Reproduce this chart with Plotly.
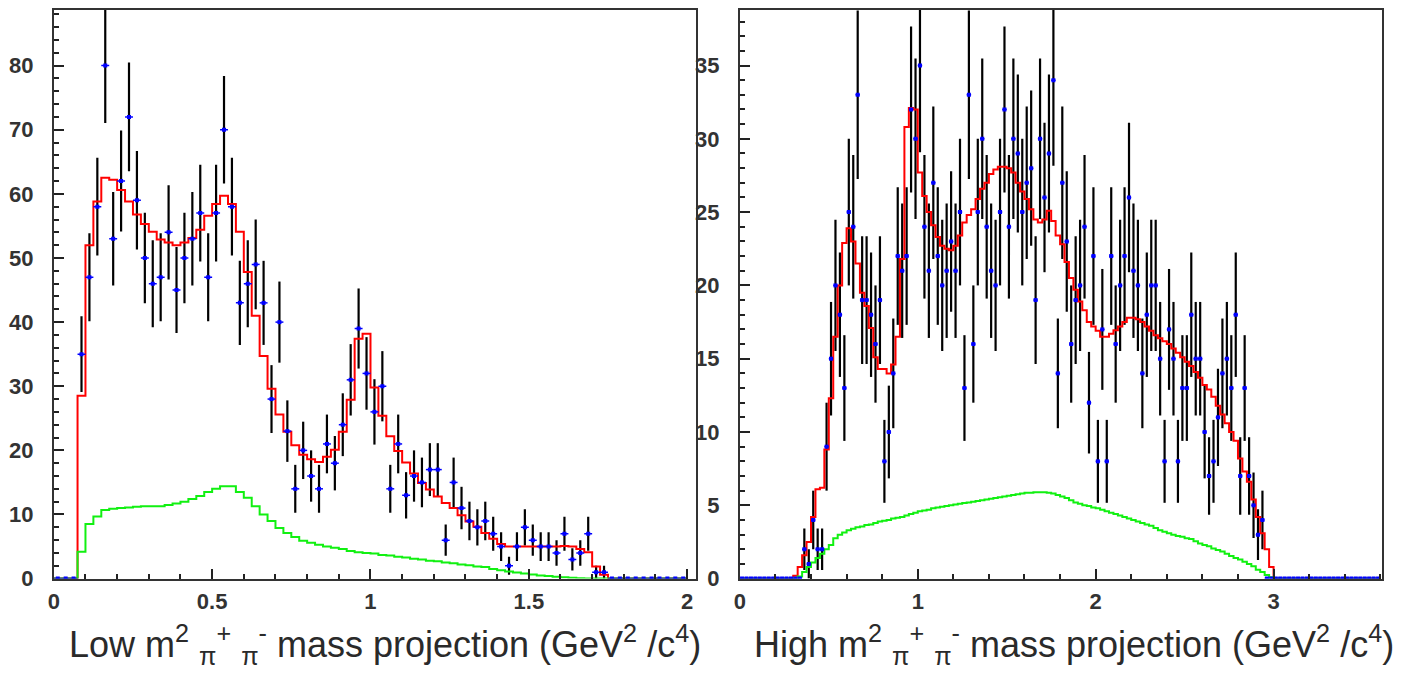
import numpy as np
import plotly.graph_objects as go

BIN_WIDTH = 0.025

# ---- Low m^2(pi+ pi-) projection, 0.025 GeV^2/c^4 bins starting at 0 ----
low_counts = [0, 0, 0, 35, 47, 58, 80, 53, 62, 72, 59, 50, 46, 47, 54, 45, 50, 53, 57, 47,
              57, 70, 58, 43, 46, 49, 43, 28, 40, 23, 14, 20, 16, 14, 21, 18, 24, 31, 39, 32,
              26, 30, 14, 21, 13, 16, 15, 17, 17, 6, 15, 11, 9, 8, 9, 7, 5, 2, 5, 8,
              6, 5, 5, 4, 7, 3, 4, 7, 1, 1, 0, 0, 0, 0, 0, 0, 0, 0, 0, 0]
low_fit = [0, 0, 0, 28.5, 52.0, 58.8, 62.5, 62.2, 60.6, 58.8, 56.8, 55.3, 54.1, 52.9, 52.4, 52.0,
           52.4, 53.1, 54.4, 56.6, 58.4, 59.7, 58.4, 54.1, 47.8, 41.0, 34.7, 29.6, 25.6, 22.9,
           20.8, 19.3, 18.6, 18.2, 19.0, 20.1, 22.9, 27.9, 37.4, 38.2, 29.8, 25.4, 22.2, 19.9,
           18.1, 16.4, 14.9, 13.9, 12.8, 11.8, 11.0, 9.9, 8.9, 8.1, 7.1, 6.2, 5.4, 5.0, 5.0, 5.0,
           5.0, 5.0, 5.0, 5.0, 5.1, 5.0, 4.6, 4.1, 1.9, 0.6, 0, 0, 0, 0, 0, 0, 0, 0, 0, 0]
low_bkg = [0, 0, 0, 4.2, 8.5, 9.7, 10.7, 10.9, 11.0, 11.1, 11.2, 11.3, 11.3, 11.3, 11.5, 11.7,
           12.0, 12.4, 12.9, 13.5, 14.0, 14.4, 14.4, 13.5, 12.6, 11.3, 10.0, 9.0, 7.9, 7.1,
           6.5, 5.9, 5.6, 5.3, 5.0, 4.8, 4.6, 4.3, 4.1, 4.0, 3.9, 3.7, 3.6, 3.4, 3.3, 3.1,
           3.0, 2.8, 2.7, 2.5, 2.4, 2.2, 2.1, 1.9, 1.8, 1.5, 1.3, 1.1, 0.95, 0.8, 0.65, 0.5,
           0.4, 0.3, 0.2, 0.12, 0.06, 0.02, 0, 0, 0, 0, 0, 0, 0, 0, 0, 0, 0, 0]

# ---- High m^2(pi+ pi-) projection ----
high_counts = [0] * 14 + [
    2, 1, 4, 2, 2, 9, 15, 20, 18, 13, 25, 24, 33, 19, 19, 18, 16, 19, 8, 10,
    14, 22, 21, 22, 32, 30, 35, 24, 21, 27, 22, 20, 21, 23, 21, 25, 13, 33, 16, 25,
    30, 24, 21, 20, 25, 32, 24, 30, 29, 25, 27, 28, 19, 30, 26, 29, 34, 14, 27, 23,
    16, 19, 20, 24, 12, 22, 8, 17, 8, 22, 16, 20, 22, 26, 21, 20, 14, 18, 20, 20,
    15, 8, 17, 15, 8, 13, 13, 18, 15, 15, 10, 7, 8, 11, 14, 15, 13, 18, 7, 13,
    7, 5, 3, 4] + [0] * 26
high_fit = [0] * 12 + [
    0.2, 0.8, 1.6, 2.5, 4.2, 6.1, 6.2, 8.8, 12.3, 16.5, 20.0, 22.9, 23.9, 23.0, 21.5, 19.5,
    18.6, 17.1, 15.1, 14.3, 14.3, 14.0, 14.6, 16.5, 21.8, 30.8, 32.1, 32.0, 27.7, 26.1,
    25.0, 24.1, 23.3, 22.7, 22.5, 22.4, 22.7, 23.4, 24.3, 24.8, 25.2, 25.9, 26.6, 27.0,
    27.6, 27.9, 28.1, 28.1, 28.0, 27.7, 27.0, 26.4, 25.9, 25.2, 24.5, 24.3, 24.5, 25.1,
    24.4, 23.4, 22.8, 21.6, 20.5, 19.7, 18.9, 18.3, 17.5, 17.2, 16.9, 16.5, 16.5, 16.7,
    16.95, 17.2, 17.5, 17.8, 17.8, 17.7, 17.5, 17.2, 16.9, 16.6, 16.4, 16.2, 16.0, 15.7,
    15.4, 15.1, 14.8, 14.5, 14.1, 13.7, 13.2, 12.9, 12.4, 11.8, 11.2, 10.6, 10.0, 9.4,
    8.2, 7.3, 6.6, 5.4, 4.2, 3.1, 2.0, 0.8] + [0] * 24
high_bkg = [0] * 12 + [
    0.05, 0.15, 0.45, 0.8, 1.1, 1.4, 1.7, 2.0, 2.3, 2.75, 3.0, 3.15, 3.3, 3.4, 3.5, 3.55,
    3.65, 3.7, 3.8, 3.9, 3.95, 4.0, 4.1, 4.15, 4.2, 4.3, 4.4, 4.5, 4.6, 4.65, 4.7, 4.8,
    4.85, 4.9, 4.95, 5.0, 5.05, 5.1, 5.15, 5.2, 5.25, 5.3, 5.35, 5.4, 5.45, 5.5, 5.55,
    5.6, 5.65, 5.7, 5.75, 5.8, 5.85, 5.85, 5.9, 5.9, 5.9, 5.85, 5.8, 5.7, 5.6, 5.5,
    5.35, 5.2, 5.1, 5.0, 4.95, 4.85, 4.8, 4.7, 4.6, 4.5, 4.4, 4.3, 4.2, 4.1, 4.0, 3.9,
    3.8, 3.7, 3.6, 3.45, 3.3, 3.2, 3.1, 3.0, 2.9, 2.85, 2.75, 2.7, 2.55, 2.4, 2.3, 2.2,
    2.05, 1.95, 1.85, 1.7, 1.55, 1.4, 1.3, 1.15, 1.0, 0.85, 0.6, 0.45, 0.25, 0.1] + [0] * 24

low_xticks = [0, 0.5, 1, 1.5, 2]
high_xticks = [0, 1, 2, 3]
low_yticks = [0, 10, 20, 30, 40, 50, 60, 70, 80]
high_yticks = [0, 5, 10, 15, 20, 25, 30, 35]

low_title = ("Low m<sup>2</sup> <sub>π</sub><sup>+</sup> <sub>π</sub><sup>-</sup> "
             "mass projection (GeV<sup>2</sup> /c<sup>4</sup>)")
high_title = ("High m<sup>2</sup> <sub>π</sub><sup>+</sup> <sub>π</sub><sup>-</sup> "
              "mass projection (GeV<sup>2</sup> /c<sup>4</sup>)")


def bin_centers(n):
    return [BIN_WIDTH * (i + 0.5) for i in range(n)]


def step_xy(vals):
    xs = [BIN_WIDTH * i for i in range(len(vals) + 1)]
    ys = list(vals) + [vals[-1]]
    return xs, ys


def add_panel(fig, counts, fit, bkg, xa, ya):
    xc = bin_centers(len(counts))
    err = np.sqrt(np.array(counts, dtype=float))
    # vertical Poisson error bars
    fig.add_trace(go.Scatter(
        x=xc, y=counts, mode="markers", xaxis=xa, yaxis=ya, showlegend=False,
        marker=dict(size=1, color="rgba(0,0,0,0)"),
        error_y=dict(type="data", array=err, color="black", thickness=2.2, width=0)))
    # total fit
    fx, fy = step_xy(fit)
    fig.add_trace(go.Scatter(
        x=fx, y=fy, mode="lines", line=dict(color="#ff0000", width=2, shape="hv"),
        xaxis=xa, yaxis=ya, showlegend=False))
    # background component
    bx, by = step_xy(bkg)
    fig.add_trace(go.Scatter(
        x=bx, y=by, mode="lines", line=dict(color="#11f011", width=2, shape="hv"),
        xaxis=xa, yaxis=ya, showlegend=False))
    # data points with bin-width bars
    fig.add_trace(go.Scatter(
        x=xc, y=counts, mode="markers", xaxis=xa, yaxis=ya, showlegend=False,
        marker=dict(symbol="square", size=4, color="#0000ff"),
        error_x=dict(type="constant", value=BIN_WIDTH / 2, color="#0000ff",
                     thickness=1.5, width=0)))


fig = go.Figure()
add_panel(fig, low_counts, low_fit, low_bkg, "x", "y")
add_panel(fig, high_counts, high_fit, high_bkg, "x2", "y2")

W, H = 1401, 674
tick_font = dict(family="Liberation Sans, Arial, sans-serif", size=22, color="#333333",
                 weight="bold")


def axis_style(**kw):
    base = dict(showline=True, linecolor="#333333", linewidth=2, mirror=True,
                ticks="inside", ticklen=10, tickwidth=1.5, tickcolor="#222222",
                showgrid=False, zeroline=False, tickfont=tick_font, fixedrange=True)
    base.update(kw)
    return base


y_dom = [(H - 590) / H, (H - 10) / H]
fig.update_layout(
    width=W, height=H,
    margin=dict(l=0, r=0, t=0, b=0),
    paper_bgcolor="white", plot_bgcolor="white",
    xaxis=axis_style(domain=[48 / W, 693 / W], range=[0, 2.028], anchor="y",
                     tickvals=low_xticks, ticklabelstandoff=2,
                     minor=dict(dtick=0.1, tick0=0, ticks="inside", ticklen=5,
                                tickcolor="#222222", showgrid=False)),
    yaxis=axis_style(domain=y_dom, range=[0, 88.7], anchor="x",
                     tickvals=low_yticks, ticklabelstandoff=14,
                     minor=dict(dtick=2, tick0=0, ticks="inside", ticklen=5,
                                tickcolor="#222222", showgrid=False)),
    xaxis2=axis_style(domain=[737 / W, 1382 / W], range=[0, 3.61], anchor="y2",
                      tickvals=high_xticks, ticklabelstandoff=2,
                      minor=dict(dtick=0.2, tick0=0, ticks="inside", ticklen=5,
                                 tickcolor="#222222", showgrid=False)),
    yaxis2=axis_style(domain=y_dom, range=[0, 38.8], anchor="x2",
                      tickvals=high_yticks, ticklabelstandoff=14,
                      minor=dict(dtick=1, tick0=0, ticks="inside", ticklen=5,
                                 tickcolor="#222222", showgrid=False)),
)

title_font = dict(family="Liberation Sans, Arial, sans-serif", size=36, color="#2a2a2a")
fig.add_annotation(text=low_title, xref="paper", yref="paper",
                   x=381 / W, y=(H - 657) / H, xanchor="center", yanchor="middle",
                   showarrow=False, font=title_font)
fig.add_annotation(text=high_title, xref="paper", yref="paper",
                   x=1073 / W, y=(H - 657) / H, xanchor="center", yanchor="middle",
                   showarrow=False, font=title_font)

fig.write_html("out.html")
